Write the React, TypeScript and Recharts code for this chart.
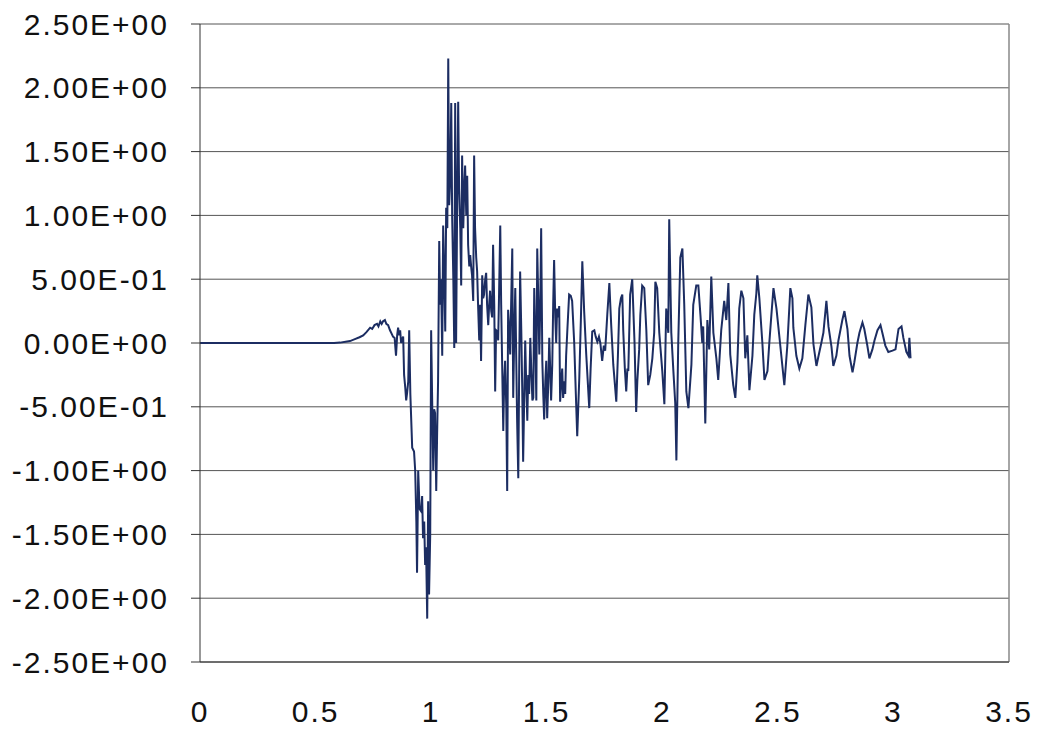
import { CartesianGrid, Line, LineChart, ReferenceLine, XAxis, YAxis } from "recharts";

// time (s) and response values
const timeSec = [
  0, 0.1, 0.2, 0.3, 0.4, 0.5, 0.58, 0.606, 0.63, 0.649, 0.67, 0.69, 0.706, 0.72, 0.736, 0.745, 0.755, 0.766, 0.772, 0.78,
  0.786, 0.792, 0.8, 0.806, 0.814, 0.822, 0.83, 0.835, 0.842, 0.848, 0.853, 0.857, 0.862, 0.866, 0.87, 0.875, 0.879, 0.883,
  0.888, 0.892, 0.896, 0.901, 0.905, 0.91, 0.918, 0.926, 0.931, 0.936, 0.939, 0.944, 0.95, 0.957, 0.961, 0.965, 0.97, 0.974,
  0.978, 0.983, 0.987, 0.991, 0.996, 1.0, 1.004, 1.009, 1.013, 1.017, 1.022, 1.026, 1.03, 1.035, 1.039, 1.043, 1.048, 1.052,
  1.057, 1.061, 1.065, 1.07, 1.074, 1.078, 1.083, 1.087, 1.091, 1.096, 1.1, 1.104, 1.108, 1.113, 1.117, 1.121, 1.126, 1.13,
  1.134, 1.139, 1.143, 1.147, 1.152, 1.156, 1.16, 1.165, 1.169, 1.173, 1.177, 1.182, 1.186, 1.19, 1.195, 1.199, 1.203, 1.208,
  1.212, 1.216, 1.221, 1.225, 1.229, 1.234, 1.238, 1.242, 1.247, 1.251, 1.255, 1.26, 1.264, 1.268, 1.273, 1.277, 1.281, 1.286,
  1.29, 1.294, 1.299, 1.303, 1.307, 1.312, 1.316, 1.32, 1.325, 1.329, 1.333, 1.338, 1.342, 1.346, 1.351, 1.355, 1.36, 1.364,
  1.368, 1.372, 1.377, 1.381, 1.385, 1.39, 1.394, 1.398, 1.403, 1.407, 1.411, 1.416, 1.42, 1.424, 1.429, 1.433, 1.438, 1.442,
  1.446, 1.451, 1.455, 1.459, 1.464, 1.468, 1.472, 1.476, 1.481, 1.485, 1.489, 1.494, 1.498, 1.502, 1.507, 1.511, 1.515, 1.519,
  1.524, 1.528, 1.532, 1.537, 1.541, 1.545, 1.55, 1.554, 1.558, 1.563, 1.567, 1.571, 1.576, 1.58, 1.584, 1.589, 1.597, 1.604,
  1.61, 1.619, 1.626, 1.632, 1.641, 1.648, 1.654, 1.662, 1.671, 1.684, 1.69, 1.697, 1.706, 1.712, 1.719, 1.726, 1.732, 1.74,
  1.747, 1.753, 1.762, 1.771, 1.775, 1.779, 1.788, 1.801, 1.808, 1.814, 1.821, 1.827, 1.831, 1.838, 1.844, 1.849, 1.853, 1.861,
  1.87, 1.874, 1.88, 1.887, 1.892, 1.9, 1.905, 1.913, 1.922, 1.931, 1.939, 1.948, 1.957, 1.965, 1.97, 1.978, 1.987, 2.0,
  2.009, 2.017, 2.026, 2.03, 2.039, 2.048, 2.056, 2.061, 2.069, 2.078, 2.087, 2.095, 2.104, 2.113, 2.126, 2.134, 2.147, 2.156,
  2.165, 2.173, 2.177, 2.186, 2.195, 2.203, 2.212, 2.221, 2.234, 2.242, 2.255, 2.268, 2.277, 2.286, 2.294, 2.307, 2.316, 2.325,
  2.333, 2.342, 2.351, 2.359, 2.368, 2.377, 2.39, 2.398, 2.407, 2.411, 2.42, 2.433, 2.442, 2.455, 2.463, 2.472, 2.481, 2.494,
  2.502, 2.515, 2.528, 2.541, 2.554, 2.563, 2.567, 2.58, 2.593, 2.606, 2.619, 2.632, 2.645, 2.654, 2.667, 2.675, 2.688, 2.697,
  2.71, 2.719, 2.732, 2.74, 2.753, 2.762, 2.779, 2.788, 2.801, 2.81, 2.823, 2.831, 2.844, 2.853, 2.866, 2.874, 2.887, 2.896,
  2.909, 2.918, 2.931, 2.944, 2.952, 2.965, 2.978, 2.996, 3.009, 3.022, 3.035, 3.043, 3.056, 3.065, 3.069, 3.074,
];

const response = [
  0, 0, 0, 0, 0, 0, 0, 0.003, 0.01, 0.015, 0.03, 0.045, 0.06, 0.085, 0.12, 0.11, 0.14, 0.15, 0.13, 0.17,
  0.15, 0.17, 0.18, 0.15, 0.14, 0.1, 0.07, 0.05, 0.04, -0.1, 0.06, 0.12, 0.06, 0.1, 0.0, 0.03, 0.05, -0.25,
  -0.35, -0.45, -0.39, -0.3, 0.1, -0.4, -0.82, -0.85, -1.0, -1.4, -1.8, -1.0, -1.3, -1.32, -1.2, -1.53, -1.4, -1.74,
  -1.6, -2.16, -1.24, -1.97, -1.5, 0.1, -0.4, -1.0, -0.52, -0.55, -1.16, -0.7, -0.3, 0.8, 0.3, 0.5, -0.1, 0.92,
  0.5, 0.09, 1.06, 0.9, 2.23, 1.08, 1.3, 1.88, 0.98, 0.5, -0.04, 1.88, 0.0, 1.2, 1.89, 1.21, 0.9, 0.45,
  1.47, 0.9, 1.2, 1.39, 1.0, 1.31, 0.77, 0.6, 0.69, 0.6, 0.53, 0.33, 1.47, 0.9, 0.67, 0.56, 0.3, 0.02,
  0.3, -0.14, 0.53, 0.35, 0.38, 0.5, 0.55, 0.3, 0.14, 0.3, 0.41, 0.25, 0.2, 0.77, 0.3, -0.38, 0.1, 0.09,
  0.02, 0.4, 0.92, 0.3, -0.14, -0.69, -0.3, -0.14, -0.5, -1.16, 0.26, 0.1, -0.09, 0.3, 0.74, -0.43, 0.1, 0.43,
  -0.1, -0.61, -1.06, -0.2, 0.56, 0.1, -0.35, -0.93, -0.4, 0.02, -0.3, -0.61, -0.25, -0.4, 0.04, -0.2, -0.45, -0.43,
  0.43, 0.0, -0.45, 0.74, 0.3, -0.09, 0.3, 0.9, -0.14, -0.4, -0.6, -0.3, -0.14, -0.59, -0.3, 0.04, -0.2, -0.45,
  -0.17, 0.3, 0.65, 0.2, 0.0, 0.27, 0.2, 0.29, -0.46, -0.3, -0.2, -0.43, -0.3, -0.4, -0.1, 0.09, 0.38, 0.37,
  0.33, 0.0, -0.4, -0.73, -0.27, 0.2, 0.64, 0.25, -0.09, -0.51, -0.2, 0.09, 0.1, 0.05, 0.01, 0.05, 0.0, -0.14,
  -0.02, -0.06, 0.22, 0.47, 0.3, 0.14, -0.17, -0.46, -0.1, 0.27, 0.35, 0.38, 0.1, -0.2, -0.38, -0.2, -0.22, 0.38,
  0.5, 0.3, 0.0, -0.54, -0.3, -0.05, 0.22, 0.45, 0.43, 0.1, -0.33, -0.25, -0.12, 0.08, 0.48, 0.43, 0.08, -0.22,
  -0.48, 0.27, 0.08, 0.97, 0.08, -0.22, -0.47, -0.92, 0.0, 0.67, 0.74, 0.3, -0.38, -0.51, -0.17, 0.3, 0.45, 0.45,
  0.22, 0.0, 0.13, -0.63, 0.18, -0.05, 0.52, 0.08, -0.12, -0.29, 0.1, 0.33, 0.18, 0.47, -0.09, -0.33, -0.43, -0.15,
  0.27, 0.41, 0.35, -0.12, 0.06, -0.37, -0.1, 0.22, 0.39, 0.53, 0.35, 0.0, -0.29, -0.22, 0.0, 0.22, 0.43, 0.27,
  0.13, -0.1, -0.33, -0.02, 0.43, 0.35, 0.12, -0.1, -0.2, -0.12, 0.14, 0.38, 0.28, -0.01, -0.18, -0.11, 0.0, 0.08,
  0.33, 0.13, -0.03, -0.18, -0.1, 0.02, 0.18, 0.25, 0.11, -0.1, -0.23, -0.15, 0.0, 0.08, 0.16, 0.11, -0.02, -0.12,
  -0.05, 0.02, 0.1, 0.14, 0.08, -0.02, -0.07, -0.06, -0.05, 0.11, 0.13, 0.04, -0.07, -0.1, 0.04, -0.12,
];

const xTicks = [0, 0.5, 1, 1.5, 2, 2.5, 3, 3.5];
const yTicks = [-2.5, -2, -1.5, -1, -0.5, 0, 0.5, 1, 1.5, 2, 2.5];

const chartData = timeSec.map((t, i) => ({ t, v: response[i] }));

function formatSci(value: number): string {
  if (value === 0) return "0.00E+00";
  const exp = Math.floor(Math.log10(Math.abs(value)));
  const mantissa = (value / Math.pow(10, exp)).toFixed(2);
  const sign = exp < 0 ? "-" : "+";
  return `${mantissa}E${sign}${String(Math.abs(exp)).padStart(2, "0")}`;
}

const tickStyle = { fontSize: 30, fill: "#111", fontFamily: "'Liberation Sans', Arial, sans-serif", letterSpacing: 2 };

export default function App() {
  return (
    <div style={{ position: "absolute", left: 0, top: 0, width: 1040, height: 731, background: "#fff" }}>
      <LineChart width={1040} height={731} data={chartData} margin={{ top: 24, right: 31, bottom: 0, left: 0 }}>
        <CartesianGrid horizontal vertical={false} stroke="#555" strokeWidth={1} />
        <XAxis
          dataKey="t"
          type="number"
          domain={[0, 3.5]}
          ticks={xTicks}
          tickLine={false}
          tickSize={10}
          tickMargin={29}
          height={69}
          axisLine={{ stroke: "#333" }}
          tick={tickStyle}
        />
        <YAxis
          type="number"
          domain={[-2.5, 2.5]}
          ticks={yTicks}
          width={200}
          tickSize={9}
          tickMargin={22}
          tickFormatter={formatSci}
          axisLine={{ stroke: "#333" }}
          tickLine={{ stroke: "#333" }}
          tick={tickStyle}
        />
        <ReferenceLine x={3.5} stroke="#888" strokeWidth={1.5} />
        <Line
          type="linear"
          dataKey="v"
          stroke="#1c2d62"
          strokeWidth={2}
          dot={false}
          isAnimationActive={false}
        />
      </LineChart>
    </div>
  );
}
